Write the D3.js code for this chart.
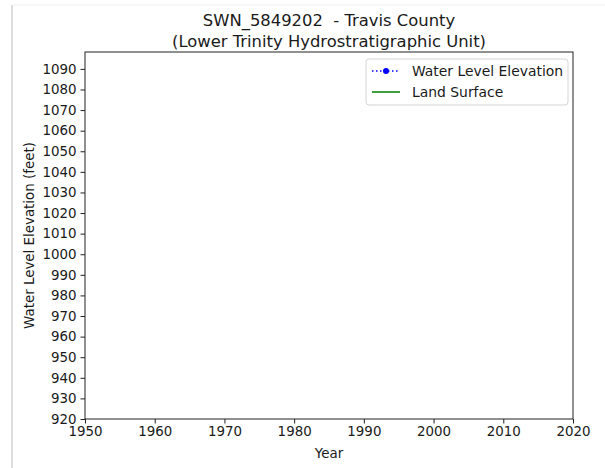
<!DOCTYPE html>
<html>
<head>
<meta charset="utf-8">
<script src="https://cdn.jsdelivr.net/npm/d3@7"></script>
<style>
  html, body { margin: 0; padding: 0; background: #fff; }
  svg { display: block; }
  text { font-family: "DejaVu Sans", sans-serif; fill: #1a1a1a; white-space: pre; }
</style>
</head>
<body>
<svg id="chart" width="605" height="468"></svg>
<script>
// Well hydrograph: no measurements recorded for this well
const titleLines = ["SWN_5849202  - Travis County", "(Lower Trinity Hydrostratigraphic Unit)"];
const waterLevelYears = [];
const waterLevelValues = [];
const landSurfaceYears = [];
const landSurfaceValues = [];
const xTicks = [1950, 1960, 1970, 1980, 1990, 2000, 2010, 2020];
const yTicks = [920, 930, 940, 950, 960, 970, 980, 990, 1000, 1010, 1020, 1030, 1040, 1050, 1060, 1070, 1080, 1090];
const xDomain = [1950, 2020];
const yDomain = [920, 1098.2];
const legendLabels = ["Water Level Elevation", "Land Surface"];

const svg = d3.select("#chart");
const margin = { left: 85, right: 32, top: 52, bottom: 49 };
const W = 605, H = 468;
const x = d3.scaleLinear().domain(xDomain).range([margin.left, W - margin.right]);
const y = d3.scaleLinear().domain(yDomain).range([H - margin.bottom, margin.top]);

// faint page frame
svg.append("line").attr("x1", 12).attr("x2", 12).attr("y1", 5).attr("y2", H)
  .attr("stroke", "#bbb").attr("stroke-width", 1);
svg.append("line").attr("x1", 12).attr("x2", W).attr("y1", 5).attr("y2", 5)
  .attr("stroke", "#f0f0f0").attr("stroke-width", 1);

// axes
const fs = "13.4px";
const xAxis = svg.append("g").attr("transform", `translate(0,${y(yDomain[0])})`)
  .call(d3.axisBottom(x).tickValues(xTicks).tickFormat(d3.format("d")).tickSize(4.5).tickPadding(3));
const yAxis = svg.append("g").attr("transform", `translate(${x(xDomain[0])},0)`)
  .call(d3.axisLeft(y).tickValues(yTicks).tickFormat(d3.format("d")).tickSize(4.5).tickPadding(4));
[xAxis, yAxis].forEach(g => {
  g.select(".domain").remove();
  g.selectAll("line").attr("stroke", "#222").attr("stroke-width", 1);
  g.selectAll("text").style("font-size", fs).style("font-family", "DejaVu Sans").attr("fill", "#1a1a1a");
});

// plot frame
svg.append("rect")
  .attr("x", x(xDomain[0])).attr("y", y(yDomain[1]))
  .attr("width", x(xDomain[1]) - x(xDomain[0]))
  .attr("height", y(yDomain[0]) - y(yDomain[1]))
  .attr("fill", "none").attr("stroke", "#222").attr("stroke-width", 1);

// series
const wl = waterLevelYears.map((d, i) => [d, waterLevelValues[i]]);
const ls = landSurfaceYears.map((d, i) => [d, landSurfaceValues[i]]);
const line = d3.line().x(d => x(d[0])).y(d => y(d[1]));
svg.append("path").datum(wl).attr("d", line).attr("fill", "none")
  .attr("stroke", "blue").attr("stroke-dasharray", "1.5,2.5");
svg.selectAll(".wlpt").data(wl).join("circle").attr("class", "wlpt")
  .attr("cx", d => x(d[0])).attr("cy", d => y(d[1])).attr("r", 3).attr("fill", "blue");
svg.append("path").datum(ls).attr("d", line).attr("fill", "none")
  .attr("stroke", "green").attr("stroke-width", 1.5);

// titles
svg.selectAll(".title").data(titleLines).join("text").attr("class", "title")
  .attr("x", (x(xDomain[0]) + x(xDomain[1])) / 2)
  .attr("y", (d, i) => 26 + i * 21)
  .attr("text-anchor", "middle").style("font-size", "16.4px").text(d => d);

svg.append("text").attr("x", (x(xDomain[0]) + x(xDomain[1])) / 2).attr("y", 458)
  .attr("text-anchor", "middle").style("font-size", fs).text("Year");
svg.append("text")
  .attr("transform", `translate(34,${(y(yDomain[0]) + y(yDomain[1])) / 2}) rotate(-90)`)
  .attr("text-anchor", "middle").style("font-size", fs).text("Water Level Elevation (feet)");

// legend
const lg = svg.append("g");
lg.append("rect").attr("x", 366).attr("y", 59).attr("width", 202).attr("height", 46)
  .attr("rx", 3).attr("fill", "#fff").attr("stroke", "#d5d5d5").attr("stroke-width", 1);
const rowY = [71, 92];
lg.append("line").attr("x1", 372).attr("x2", 400).attr("y1", rowY[0]).attr("y2", rowY[0])
  .attr("stroke", "blue").attr("stroke-width", 1.3).attr("stroke-dasharray", "1.5,2.5");
lg.append("circle").attr("cx", 386).attr("cy", rowY[0]).attr("r", 3).attr("fill", "blue");
lg.append("line").attr("x1", 372).attr("x2", 400).attr("y1", rowY[1]).attr("y2", rowY[1])
  .attr("stroke", "green").attr("stroke-width", 1.5);
lg.selectAll(".lt").data(legendLabels).join("text").attr("class", "lt")
  .attr("x", 412).attr("y", (d, i) => rowY[i] + 4.8).style("font-size", "13.9px").text(d => d);
</script>
</body>
</html>
